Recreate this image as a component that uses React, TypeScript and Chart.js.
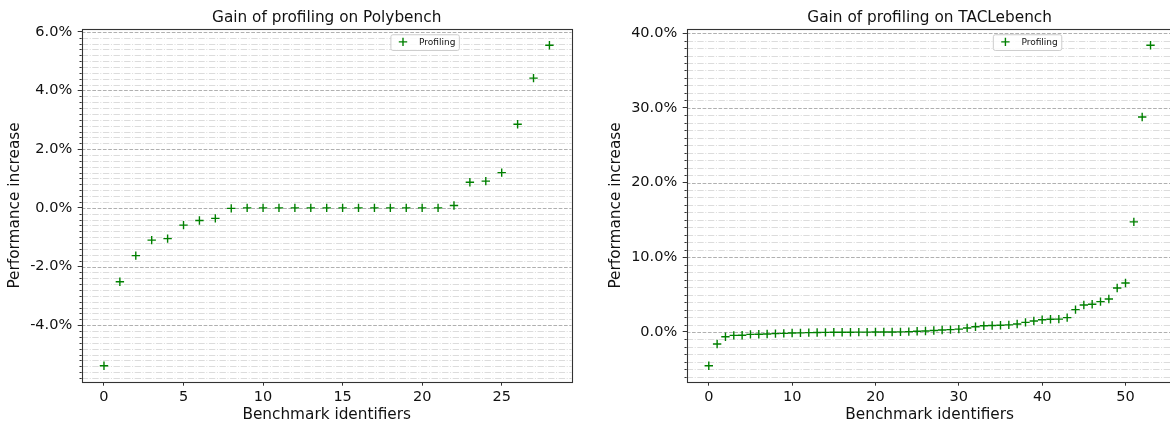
import React, { useEffect, useRef } from "react";
import { Chart, registerables } from "chart.js";

Chart.register(...registerables);

// ---------- data ----------
const SERIES_LABEL = "Profiling";
const X_TITLE = "Benchmark identifiers";
const Y_TITLE = "Performance increase";

const POLY_TITLE = "Gain of profiling on Polybench";
const POLY_VALUES = [
  -5.38, -2.52, -1.63, -1.1, -1.05, -0.59, -0.43, -0.36, -0.02, 0.0, 0.0, 0.0,
  0.0, 0.0, 0.0, 0.0, 0.0, 0.0, 0.0, 0.0, 0.0, 0.0, 0.08, 0.87, 0.91, 1.2,
  2.85, 4.42, 5.54,
];
const POLY_Y_TICKS = [-4, -2, 0, 2, 4, 6];
const POLY_X_TICKS = [0, 5, 10, 15, 20, 25];
const POLY_MINOR_STEP = 0.2;

const TACLE_TITLE = "Gain of profiling on TACLebench";
const TACLE_VALUES = [
  -4.51, -1.61, -0.63, -0.45, -0.43, -0.32, -0.3, -0.27, -0.22, -0.18, -0.14,
  -0.12, -0.08, -0.06, -0.05, -0.04, -0.03, -0.03, -0.02, -0.02, -0.01, -0.01,
  0.0, 0.02, 0.05, 0.09, 0.14, 0.2, 0.27, 0.32, 0.38, 0.54, 0.71, 0.84, 0.86,
  0.9, 0.95, 1.07, 1.29, 1.47, 1.64, 1.7, 1.72, 1.92, 2.99, 3.62, 3.71, 4.06,
  4.42, 5.89, 6.56, 14.73, 28.78, 38.37,
];
const TACLE_Y_TICKS = [0, 10, 20, 30, 40];
const TACLE_X_TICKS = [0, 10, 20, 30, 40, 50];
const TACLE_MINOR_STEP = 1;

// ---------- helpers ----------
const FONT = '"DejaVu Sans", "Liberation Sans", sans-serif';
const MARKER_COLOR = "#008000";

function limits(lo: number, hi: number) {
  const m = (hi - lo) * 0.05;
  return [lo - m, hi + m];
}

const decorPlugin = {
  id: "mplDecor",
  beforeDatasetsDraw(chart: any, _args: any, opts: any) {
    const { ctx, chartArea } = chart;
    const { left, right, top, bottom } = chartArea;
    const y = chart.scales.y;
    const major: number[] = opts.majorTicks;
    const step: number = opts.minorStep;
    ctx.save();
    ctx.beginPath();
    ctx.rect(left, top, right - left, bottom - top);
    ctx.clip();
    ctx.lineWidth = 1;
    // minor grid
    ctx.strokeStyle = "#dcdcdc";
    ctx.setLineDash([6.4, 1.6, 1, 1.6]);
    const k0 = Math.ceil(y.min / step - 1e-9);
    const k1 = Math.floor(y.max / step + 1e-9);
    for (let k = k0; k <= k1; k++) {
      const v = k * step;
      if (major.some((t) => Math.abs(t - v) < 1e-6)) continue;
      const py = Math.round(y.getPixelForValue(v)) + 0.5;
      ctx.beginPath();
      ctx.moveTo(left, py);
      ctx.lineTo(right, py);
      ctx.stroke();
    }
    // major grid
    ctx.strokeStyle = "#b0b0b0";
    ctx.setLineDash([3.7, 1.6]);
    for (const t of major) {
      const py = Math.round(y.getPixelForValue(t)) + 0.5;
      ctx.beginPath();
      ctx.moveTo(left, py);
      ctx.lineTo(right, py);
      ctx.stroke();
    }
    ctx.restore();
    // minor tick marks on y axis
    ctx.save();
    ctx.strokeStyle = "#333";
    ctx.lineWidth = 1;
    for (let k = k0; k <= k1; k++) {
      const v = k * step;
      if (major.some((t) => Math.abs(t - v) < 1e-6)) continue;
      const py = Math.round(y.getPixelForValue(v)) + 0.5;
      ctx.beginPath();
      ctx.moveTo(left - 2.2, py);
      ctx.lineTo(left, py);
      ctx.stroke();
    }
    ctx.restore();
  },
  afterDatasetsDraw(chart: any, _args: any, opts: any) {
    const { ctx, chartArea } = chart;
    const { left, right, top, bottom } = chartArea;
    ctx.save();
    // frame
    ctx.strokeStyle = "#333";
    ctx.lineWidth = 1.1;
    ctx.strokeRect(
      Math.round(left) + 0.5,
      Math.round(top) + 0.5,
      Math.round(right) - Math.round(left),
      Math.round(bottom) - Math.round(top)
    );
    // legend
    const label = chart.data.datasets[0].label;
    ctx.font = "9px " + FONT;
    const tw = ctx.measureText(label).width;
    const lx = left + opts.legendFrac * (right - left);
    const ly = top + 5;
    const w = 28.6 + tw + 3.5;
    const h = 15.7;
    ctx.beginPath();
    ctx.roundRect(lx + 0.5, ly + 0.5, w, h, 2);
    ctx.fillStyle = "rgba(255,255,255,0.85)";
    ctx.fill();
    ctx.strokeStyle = "#cccccc";
    ctx.lineWidth = 1;
    ctx.stroke();
    // marker
    const mx = lx + 12.6;
    const my = ly + 7.6;
    ctx.strokeStyle = MARKER_COLOR;
    ctx.lineWidth = 1.4;
    ctx.beginPath();
    ctx.moveTo(mx - 4.2, my);
    ctx.lineTo(mx + 4.2, my);
    ctx.moveTo(mx, my - 4.2);
    ctx.lineTo(mx, my + 4.2);
    ctx.stroke();
    ctx.fillStyle = "#111";
    ctx.textBaseline = "middle";
    ctx.textAlign = "left";
    ctx.fillText(label, lx + 28.6, ly + 8.2);
    ctx.restore();
  },
};

type PanelProps = {
  title: string;
  values: number[];
  yTicks: number[];
  xTicks: number[];
  minorStep: number;
  left: number;
  width: number;
  yAxisWidth: number;
  padRight: number;
  yTitlePad: number;
};

function Panel(p: PanelProps) {
  const ref = useRef<HTMLCanvasElement | null>(null);
  useEffect(() => {
    if (!ref.current) return;
    const [ymin, ymax] = limits(Math.min(...p.values), Math.max(...p.values));
    const [xmin, xmax] = limits(0, p.values.length - 1);
    const tickFont = { family: FONT, size: 14.5 };
    const titleFont = { family: FONT, size: 15.3, weight: "normal" as const };
    const chart = new Chart(ref.current, {
      type: "scatter",
      data: {
        datasets: [
          {
            label: SERIES_LABEL,
            data: p.values.map((v, i) => ({ x: i, y: v })),
            pointStyle: "cross",
            pointRadius: 4.2,
            pointBorderWidth: 1.4,
            borderColor: MARKER_COLOR,
            backgroundColor: MARKER_COLOR,
          },
        ],
      },
      options: {
        animation: false,
        responsive: false,
        devicePixelRatio: 1,
        events: [],
        layout: { padding: { left: 0, right: p.padRight, top: 0, bottom: 0 } },
        plugins: {
          legend: { display: false },
          tooltip: { enabled: false },
          title: {
            display: true,
            text: p.title,
            fullSize: false,
            color: "#111",
            font: titleFont,
            padding: { top: 8.5, bottom: 2.4 },
          },
          mplDecor: {
            majorTicks: p.yTicks,
            minorStep: p.minorStep,
            legendFrac: 0.63,
          },
        } as any,
        scales: {
          x: {
            type: "linear",
            min: xmin,
            max: xmax,
            afterBuildTicks: (s: any) => {
              s.ticks = p.xTicks.map((v) => ({ value: v }));
            },
            afterFit: (s: any) => {
              s.height = 46.3;
            },
            grid: {
              display: true,
              drawOnChartArea: false,
              drawTicks: true,
              tickLength: 4,
              tickColor: "#333",
              tickWidth: 1,
            },
            border: { display: false },
            ticks: {
              autoSkip: false,
              maxRotation: 0,
              padding: 3,
              color: "#111",
              font: tickFont,
              callback: (v: any) => String(v),
            },
            title: {
              display: true,
              text: X_TITLE,
              color: "#111",
              font: titleFont,
              padding: { top: 0, bottom: 4 },
            },
          },
          y: {
            type: "linear",
            min: ymin,
            max: ymax,
            afterBuildTicks: (s: any) => {
              s.ticks = p.yTicks.map((v) => ({ value: v }));
            },
            afterFit: (s: any) => {
              s.width = p.yAxisWidth;
            },
            grid: {
              display: true,
              drawOnChartArea: false,
              drawTicks: true,
              tickLength: 4,
              tickColor: "#333",
              tickWidth: 1,
            },
            border: { display: false },
            ticks: {
              autoSkip: false,
              padding: 5.5,
              color: "#111",
              font: tickFont,
              callback: (v: any) => Number(v).toFixed(1) + "%",
            },
            title: {
              display: true,
              text: Y_TITLE,
              color: "#111",
              font: titleFont,
              padding: { top: p.yTitlePad, bottom: 0 },
            },
          },
        },
      },
      plugins: [decorPlugin],
    });
    return () => chart.destroy();
  }, []);
  return (
    <canvas
      ref={ref}
      width={p.width}
      height={428}
      style={{
        position: "absolute",
        left: p.left,
        top: 0,
        width: p.width,
        height: 428,
      }}
    />
  );
}

export default function App() {
  return (
    <div
      style={{
        position: "fixed",
        left: 0,
        top: 0,
        width: 1185,
        height: 428,
        background: "#fff",
        overflow: "hidden",
      }}
    >
      <Panel
        title={POLY_TITLE}
        values={POLY_VALUES}
        yTicks={POLY_Y_TICKS}
        xTicks={POLY_X_TICKS}
        minorStep={POLY_MINOR_STEP}
        left={0}
        width={585}
        yAxisWidth={81.7}
        padRight={13.3}
        yTitlePad={6}
      />
      <Panel
        title={TACLE_TITLE}
        values={TACLE_VALUES}
        yTicks={TACLE_Y_TICKS}
        xTicks={TACLE_X_TICKS}
        minorStep={TACLE_MINOR_STEP}
        left={600}
        width={585}
        yAxisWidth={86.7}
        padRight={12.4}
        yTitlePad={7}
      />
    </div>
  );
}
